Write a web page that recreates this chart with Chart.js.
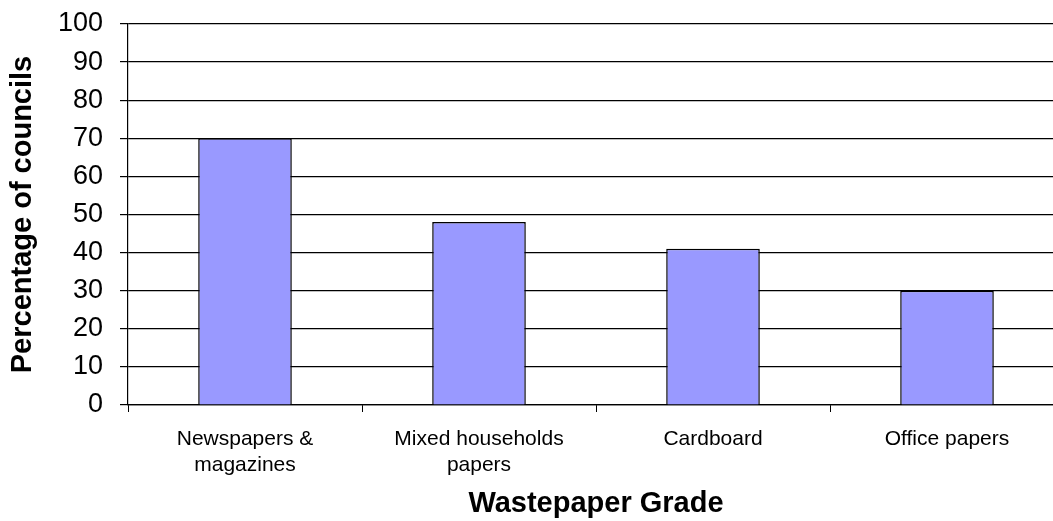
<!DOCTYPE html>
<html>
<head>
<meta charset="utf-8">
<title>Wastepaper Grade</title>
<script src="https://cdn.jsdelivr.net/npm/chart.js@4.4.0/dist/chart.umd.min.js"></script>
<style>
  html, body { margin: 0; padding: 0; background: #fff; overflow: hidden; }
  canvas { display: block; }
</style>
</head>
<body>
<canvas id="gradeChart" width="1068" height="521"></canvas>
<script>
// wastepaper grades collected, % of councils
var grades = [['Newspapers &', 'magazines'], ['Mixed households', 'papers'], 'Cardboard', 'Office papers'];
var councilPercent = [70, 48, 41, 30];
var yMin = 0, yMax = 100, yStep = 10;

Chart.defaults.font.family = "'Liberation Sans', Arial, sans-serif";
Chart.defaults.color = '#000';

var ctx = document.getElementById('gradeChart').getContext('2d');

var data = {
    labels: grades,
    datasets: [{
        data: councilPercent,
        backgroundColor: '#9999FF',
        borderColor: '#000',
        borderWidth: 1.5,
        barPercentage: 0.4,
        categoryPercentage: 1.0
    }]
};

var options = {
    responsive: false,
    animation: false,
    layout: { padding: { top: 24, right: 4, left: 0, bottom: 0 } },
    plugins: {
        legend: { display: false },
        tooltip: { enabled: false }
    },
    scales: {
        x: {
            grid: { drawOnChartArea: false, offset: true, color: '#000', tickLength: 7 },
            border: { color: '#000', width: 1.2 },
            ticks: { font: { size: 21 }, padding: 15, maxRotation: 0, autoSkip: false },
            title: {
                display: true,
                text: 'Wastepaper Grade',
                font: { size: 29, weight: 'bold' },
                padding: { top: 0, bottom: 0 }
            },
            afterFit: function (scale) {
                scale.height = 116;
                scale.paddingLeft = 0;
                scale.paddingRight = 0;
            }
        },
        y: {
            min: yMin,
            max: yMax,
            ticks: { stepSize: yStep, font: { size: 27 }, padding: 17 },
            grid: { color: '#000', tickLength: 8, lineWidth: 1.2 },
            border: { color: '#000', width: 1.2 },
            title: {
                display: true,
                text: 'Percentage of councils',
                font: { size: 29, weight: 'bold' },
                padding: { top: 6, bottom: 0 }
            },
            afterFit: function (scale) {
                scale.width = 128;
                scale.paddingTop = 0;
                scale.paddingBottom = 0;
            }
        }
    }
};

var gradeChart = new Chart(ctx, {
    type: 'bar',
    data: data,
    options: options
});
</script>
</body>
</html>
